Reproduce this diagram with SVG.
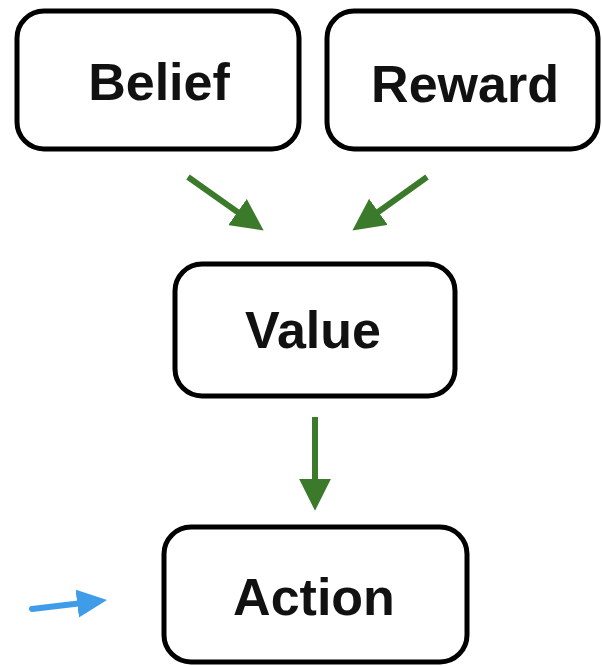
<svg xmlns="http://www.w3.org/2000/svg" width="602" height="666" viewBox="0 0 602 666">
  <style>
    .box { fill: #ffffff; stroke: #000000; stroke-width: 5; }
    .label { font-family: "Liberation Sans", Arial, sans-serif; font-weight: bold; font-size: 52px; fill: #111111; text-anchor: middle; }
    .flow { stroke: #3b7a2a; stroke-width: 6; fill: none; }
    .input { stroke: #3f9ce8; stroke-width: 6; fill: none; stroke-linecap: round; }
  </style>
  <defs>
    <!-- triangular heads; the shaft stops inside the head so it never shows past the tip -->
    <marker id="headGreen" markerUnits="userSpaceOnUse" markerWidth="32" markerHeight="32" viewBox="0 0 30 30" refX="18" refY="15" orient="auto">
      <path d="M0,0 L30,15 L0,30 Z" fill="#3b7a2a"/>
    </marker>
    <marker id="headBlue" markerUnits="userSpaceOnUse" markerWidth="30" markerHeight="30" viewBox="0 0 30 30" refX="18" refY="15" orient="auto">
      <path d="M0,1 L30,15 L0,29 Z" fill="#3f9ce8"/>
    </marker>
  </defs>

  <rect width="602" height="666" fill="#ffffff"/>

  <g id="connectors">
    <line class="flow" x1="188" y1="177" x2="253.2" y2="223.1" marker-end="url(#headGreen)"/>
    <line class="flow" x1="427" y1="177" x2="362.8" y2="223" marker-end="url(#headGreen)"/>
    <line class="flow" x1="315" y1="417" x2="315" y2="498" marker-end="url(#headGreen)"/>
    <line class="input" x1="32" y1="609" x2="95.1" y2="601.4" marker-end="url(#headBlue)"/>
  </g>

  <g id="belief">
    <rect class="box" x="17" y="11" width="282" height="138" rx="27"/>
    <text class="label" x="159" y="100">Belief</text>
  </g>

  <g id="reward">
    <rect class="box" x="327" y="11" width="271" height="138" rx="27"/>
    <text class="label" x="465" y="102">Reward</text>
  </g>

  <g id="value">
    <rect class="box" x="175" y="264" width="280" height="132" rx="27"/>
    <text class="label" x="313" y="348">Value</text>
  </g>

  <g id="action">
    <rect class="box" x="164" y="527" width="303" height="135" rx="27"/>
    <text class="label" x="314" y="615">Action</text>
  </g>
</svg>
